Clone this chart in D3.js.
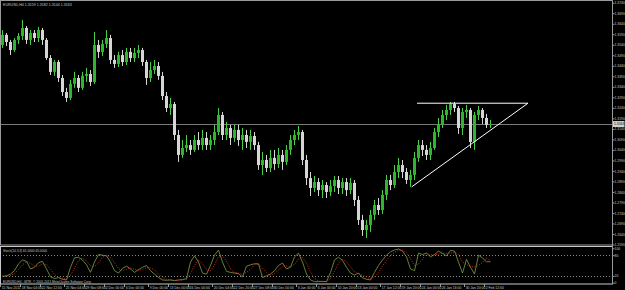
<!DOCTYPE html>
<html>
<head>
<meta charset="utf-8">
<script src="https://cdn.jsdelivr.net/npm/d3@7"></script>
<style>
html, body { margin: 0; padding: 0; background: #000; }
svg { display: block; }
text { font-family: "Liberation Sans", Arial, sans-serif; }
</style>
</head>
<body>
<svg></svg>
<script>
const symbol = "EURUSD,H4";

// H4 candles
const open = [
  1.3539, 1.3587, 1.3553, 1.3515, 1.3563, 1.3582, 1.3620, 1.3563, 1.3596, 1.3572,
  1.3610, 1.3563, 1.3477, 1.3411, 1.3458, 1.3382, 1.3315, 1.3287, 1.3354, 1.3382,
  1.3335, 1.3392, 1.3401, 1.3363, 1.3539, 1.3506, 1.3544, 1.3572, 1.3468, 1.3449,
  1.3491, 1.3458, 1.3506, 1.3477, 1.3501, 1.3515, 1.3458, 1.3382, 1.3420, 1.3439,
  1.3392, 1.3296, 1.3239, 1.3258, 1.3111, 1.3016, 1.3049, 1.3063, 1.3040, 1.3087,
  1.3063, 1.3097, 1.3063, 1.3087, 1.3125, 1.3206, 1.3111, 1.3144, 1.3097, 1.3135,
  1.3087, 1.3111, 1.3078, 1.3106, 1.3063, 1.2968, 1.2992, 1.2954, 1.3002, 1.2973,
  1.3016, 1.2983, 1.3040, 1.3087, 1.3111, 1.3125, 1.2992, 1.2906, 1.2859, 1.2887,
  1.2849, 1.2873, 1.2840, 1.2868, 1.2897, 1.2859, 1.2887, 1.2849, 1.2883, 1.2802,
  1.2707, 1.2659, 1.2683, 1.2731, 1.2778, 1.2754, 1.2826, 1.2897, 1.2873, 1.2935,
  1.2968, 1.2935, 1.2897, 1.2921, 1.3002, 1.3063, 1.3040, 1.3016, 1.3049, 1.3125,
  1.3159, 1.3206, 1.3230, 1.3258, 1.3239, 1.3144, 1.3220, 1.3230, 1.3078, 1.3206,
  1.3230, 1.3192, 1.3159
];
const high = [
  1.3610, 1.3596, 1.3563, 1.3572, 1.3596, 1.3658, 1.3629, 1.3610, 1.3610, 1.3625,
  1.3620, 1.3572, 1.3491, 1.3468, 1.3468, 1.3396, 1.3335, 1.3373, 1.3411, 1.3396,
  1.3411, 1.3430, 1.3420, 1.3601, 1.3563, 1.3563, 1.3610, 1.3587, 1.3491, 1.3506,
  1.3515, 1.3525, 1.3525, 1.3525, 1.3539, 1.3525, 1.3468, 1.3458, 1.3468, 1.3458,
  1.3411, 1.3315, 1.3287, 1.3268, 1.3135, 1.3087, 1.3111, 1.3087, 1.3111, 1.3125,
  1.3135, 1.3125, 1.3111, 1.3159, 1.3239, 1.3220, 1.3173, 1.3159, 1.3159, 1.3159,
  1.3144, 1.3135, 1.3135, 1.3125, 1.3078, 1.3030, 1.3016, 1.3040, 1.3040, 1.3049,
  1.3040, 1.3063, 1.3111, 1.3135, 1.3154, 1.3135, 1.3016, 1.2935, 1.2916, 1.2906,
  1.2897, 1.2887, 1.2897, 1.2916, 1.2916, 1.2906, 1.2906, 1.2906, 1.2897, 1.2821,
  1.2731, 1.2707, 1.2754, 1.2802, 1.2811, 1.2849, 1.2921, 1.2921, 1.2968, 1.3002,
  1.2992, 1.2954, 1.2945, 1.3030, 1.3087, 1.3087, 1.3063, 1.3078, 1.3144, 1.3192,
  1.3230, 1.3254, 1.3268, 1.3268, 1.3249, 1.3239, 1.3254, 1.3239, 1.3220, 1.3249,
  1.3239, 1.3211, 1.3182
];
const low = [
  1.3525, 1.3534, 1.3491, 1.3506, 1.3544, 1.3563, 1.3544, 1.3539, 1.3553, 1.3553,
  1.3539, 1.3468, 1.3396, 1.3392, 1.3363, 1.3296, 1.3268, 1.3277, 1.3335, 1.3315,
  1.3325, 1.3363, 1.3344, 1.3354, 1.3477, 1.3487, 1.3525, 1.3449, 1.3430, 1.3434,
  1.3439, 1.3444, 1.3458, 1.3458, 1.3477, 1.3439, 1.3349, 1.3363, 1.3401, 1.3373,
  1.3277, 1.3220, 1.3206, 1.3087, 1.2983, 1.3002, 1.3030, 1.3016, 1.3030, 1.3040,
  1.3040, 1.3040, 1.3040, 1.3063, 1.3111, 1.3087, 1.3087, 1.3063, 1.3078, 1.3059,
  1.3040, 1.3049, 1.3040, 1.3040, 1.2945, 1.2921, 1.2935, 1.2935, 1.2945, 1.2954,
  1.2945, 1.2968, 1.3016, 1.3063, 1.3087, 1.2968, 1.2873, 1.2821, 1.2840, 1.2821,
  1.2811, 1.2811, 1.2821, 1.2840, 1.2830, 1.2830, 1.2821, 1.2830, 1.2773, 1.2683,
  1.2631, 1.2621, 1.2650, 1.2707, 1.2731, 1.2735, 1.2802, 1.2849, 1.2859, 1.2906,
  1.2906, 1.2878, 1.2864, 1.2897, 1.2983, 1.3011, 1.2992, 1.2992, 1.3040, 1.3101,
  1.3144, 1.3182, 1.3206, 1.3220, 1.3116, 1.3111, 1.3192, 1.3049, 1.3040, 1.3182,
  1.3163, 1.3144, 1.3144
];
const close = [
  1.3587, 1.3553, 1.3515, 1.3563, 1.3582, 1.3620, 1.3563, 1.3596, 1.3572, 1.3610,
  1.3563, 1.3477, 1.3411, 1.3458, 1.3382, 1.3315, 1.3287, 1.3354, 1.3382, 1.3335,
  1.3392, 1.3401, 1.3363, 1.3539, 1.3506, 1.3544, 1.3572, 1.3468, 1.3449, 1.3491,
  1.3458, 1.3506, 1.3477, 1.3501, 1.3515, 1.3458, 1.3382, 1.3420, 1.3439, 1.3392,
  1.3296, 1.3239, 1.3258, 1.3111, 1.3016, 1.3049, 1.3063, 1.3040, 1.3087, 1.3063,
  1.3097, 1.3063, 1.3087, 1.3125, 1.3206, 1.3111, 1.3144, 1.3097, 1.3135, 1.3087,
  1.3111, 1.3078, 1.3106, 1.3063, 1.2968, 1.2992, 1.2954, 1.3002, 1.2973, 1.3016,
  1.2983, 1.3040, 1.3087, 1.3111, 1.3125, 1.2992, 1.2906, 1.2859, 1.2887, 1.2849,
  1.2873, 1.2840, 1.2868, 1.2897, 1.2859, 1.2887, 1.2849, 1.2883, 1.2802, 1.2707,
  1.2659, 1.2683, 1.2731, 1.2778, 1.2754, 1.2826, 1.2897, 1.2873, 1.2935, 1.2968,
  1.2935, 1.2897, 1.2921, 1.3002, 1.3063, 1.3040, 1.3016, 1.3049, 1.3125, 1.3159,
  1.3206, 1.3230, 1.3258, 1.3239, 1.3144, 1.3220, 1.3230, 1.3078, 1.3206, 1.3230,
  1.3192, 1.3159, 1.3163
];

// stochastic main (%K) and signal (%D)
const stochMain = [
  18, 20, 25, 35, 55, 66, 62, 40, 45, 58,
  62, 40, 17, 12, 15, 10, 8, 45, 72, 74,
  66, 52, 30, 60, 82, 80, 78, 60, 35, 28,
  42, 48, 40, 30, 38, 45, 50, 35, 25, 15,
  8, 7, 8, 6, 8, 9, 12, 60, 78, 60,
  28, 25, 50, 80, 95, 60, 33, 30, 28, 26,
  17, 48, 52, 55, 55, 15, 20, 25, 35, 50,
  57, 40, 45, 75, 86, 60, 25, 8, 3, 3,
  4, 3, 30, 66, 74, 65, 45, 28, 22, 28,
  14, 10, 8, 30, 50, 66, 80, 90, 95, 98,
  92, 75, 40, 35, 86, 82, 86, 75, 82, 92,
  85, 78, 94, 92, 60, 28, 68, 45, 25, 80,
  72, 61, 61
];
const stochSignal = [
  20, 19, 21, 27, 38, 52, 61, 56, 49, 48,
  55, 53, 40, 23, 15, 12, 11, 21, 42, 64,
  71, 64, 49, 47, 57, 74, 80, 73, 58, 41,
  35, 39, 43, 39, 36, 38, 44, 43, 37, 25,
  16, 10, 8, 7, 7, 8, 10, 27, 50, 66,
  55, 38, 34, 52, 75, 78, 63, 41, 30, 28,
  24, 30, 39, 52, 54, 42, 30, 20, 27, 37,
  47, 49, 47, 53, 69, 74, 57, 31, 12, 5,
  3, 3, 12, 33, 57, 68, 61, 46, 32, 26,
  21, 17, 11, 16, 29, 49, 65, 79, 88, 94,
  95, 88, 69, 50, 54, 68, 85, 81, 81, 83,
  86, 85, 86, 88, 82, 60, 52, 47, 46, 50,
  59, 71, 65
];
const stochLevels = [80, 20];
const stochTicks = [100, 80, 20, 0];

// price scale labels
const priceTicks = d3.range(24).map(k => +(1.2590 + k * 0.005).toFixed(4));

// time axis: bar index of each label and its text
const timeTickBars = [0, 5, 10, 16, 21, 26, 31, 37, 42, 47, 53, 58, 63, 68, 74, 79, 84, 89, 95, 100, 105, 110, 116, 121];
const timeTickLabels = [
  "15 Nov 2011", "18 Nov 04:00", "22 Nov 12:00", "25 Nov 04:00", "29 Nov 08:00", "2 Dec 00:00",
  "6 Dec 00:00", "9 Dec 00:00", "13 Dec 00:00", "16 Dec 00:00", "20 Dec 04:00", "22 Dec 20:00",
  "27 Dec 08:00", "30 Dec 00:00", "3 Jan 00:00", "6 Jan 00:00", "10 Jan 20:00", "13 Jan 00:00",
  "17 Jan 12:00", "19 Jan 20:00", "24 Jan 00:00", "26 Jan 16:00", "30 Jan 20:00", "2 Feb 12:00"
];

// hand drawn triangle (bar index, price)
const topLine = [[103.75, 1.3262], [131.5, 1.3262]];
const supportLine = [[102.4, 1.2864], [131.5, 1.3262]];

const width = 625;
const height = 290;
const plotRight = 612;
const mainBottom = 245;
const subTop = 246.5;
const subBottom = 284;

const frameColor = "#9a9a9a";
const textColor = "#c8c8c8";
const bullBody = "#2fb52f";
const bullWick = "#45d045";
const bearColor = "#d6d6d6";

const svg = d3.select("svg").attr("width", width).attr("height", height);
svg.append("rect").attr("width", width).attr("height", height).attr("fill", "#000");

const bars = d3.range(close.length).map(i => ({ i, o: open[i], h: high[i], l: low[i], c: close[i] }));

const xScale = d3.scaleLinear().domain([-0.5, 152.5]).range([0, plotRight]);
const yScale = d3.scaleLinear().domain([1.2640, 1.3740]).range([234, 2.7]);
const sScale = d3.scaleLinear().domain([0, 100]).range([282.7, 248.3]);

svg.append("clipPath").attr("id", "mainClip")
  .append("rect").attr("x", 0).attr("y", 0).attr("width", plotRight).attr("height", mainBottom);

// bid line
const last = bars[bars.length - 1];
svg.append("line")
  .attr("x1", 0).attr("x2", plotRight)
  .attr("y1", Math.round(yScale(last.c)) + 0.5).attr("y2", Math.round(yScale(last.c)) + 0.5)
  .attr("stroke", "#7a7a7a");

// candles
const candles = svg.append("g").attr("clip-path", "url(#mainClip)")
  .selectAll("g").data(bars).enter().append("g");

candles.append("line")
  .attr("x1", d => Math.round(xScale(d.i)) + 0.5)
  .attr("x2", d => Math.round(xScale(d.i)) + 0.5)
  .attr("y1", d => yScale(d.h))
  .attr("y2", d => yScale(d.l))
  .attr("stroke", d => d.c >= d.o ? bullWick : bearColor);

candles.append("rect")
  .attr("x", d => Math.round(xScale(d.i)) - 1)
  .attr("width", 3)
  .attr("y", d => yScale(Math.max(d.o, d.c)))
  .attr("height", d => Math.max(1, Math.abs(yScale(d.o) - yScale(d.c))))
  .attr("fill", d => d.c >= d.o ? bullBody : bearColor);

// triangle
const trend = d3.line().x(d => xScale(d[0])).y(d => yScale(d[1]));
[topLine, supportLine].forEach(pts => {
  svg.append("path").attr("d", trend(pts))
    .attr("fill", "none").attr("stroke", "#ffffff").attr("stroke-width", 1);
});

// stochastic pane
stochLevels.forEach(v => {
  svg.append("line")
    .attr("x1", 0).attr("x2", plotRight)
    .attr("y1", Math.round(sScale(v)) + 0.5).attr("y2", Math.round(sScale(v)) + 0.5)
    .attr("stroke", "#8a8a8a").attr("stroke-dasharray", "1,2");
});

const stochLine = d3.line().x((d, i) => xScale(i) + 0.5).y(d => sScale(d));
svg.append("path").attr("d", stochLine(stochMain))
  .attr("fill", "none").attr("stroke", "#7f9f45").attr("stroke-width", 0.8);
svg.append("path").attr("d", stochLine(stochSignal))
  .attr("fill", "none").attr("stroke", "#ff3a2a").attr("stroke-width", 0.8)
  .attr("stroke-dasharray", "1,1.5");

// frames
svg.append("rect").attr("x", 0.5).attr("y", 0.5)
  .attr("width", plotRight).attr("height", mainBottom - 0.5)
  .attr("fill", "none").attr("stroke", frameColor);
svg.append("rect").attr("x", 0.5).attr("y", subTop)
  .attr("width", plotRight).attr("height", subBottom - subTop)
  .attr("fill", "none").attr("stroke", "#c8c8c8");

// price axis
const yAxis = d3.axisRight(yScale).tickValues(priceTicks).tickSize(2).tickFormat(d3.format(".4f"));
const gy = svg.append("g").attr("transform", "translate(" + (plotRight + 0.5) + ",0)").call(yAxis);
gy.select(".domain").remove();
gy.selectAll("line").attr("stroke", frameColor);
gy.selectAll("text").attr("x", 2).attr("font-size", 3.4).attr("fill", textColor)
  .attr("font-family", "Liberation Sans, Arial, sans-serif");

// bid price box
svg.append("rect").attr("x", plotRight + 1).attr("y", yScale(last.c) - 3)
  .attr("width", width - plotRight - 1.5).attr("height", 6).attr("fill", "#d0d0d0");
svg.append("text").attr("x", plotRight + 2).attr("y", yScale(last.c) + 1.3)
  .attr("font-size", 3.4).attr("fill", "#000")
  .text(d3.format(".4f")(last.c));

// stochastic axis
const sAxis = d3.axisRight(sScale).tickValues(stochTicks).tickSize(2).tickFormat(d3.format("d"));
const gs = svg.append("g").attr("transform", "translate(" + (plotRight + 0.5) + ",0)").call(sAxis);
gs.select(".domain").remove();
gs.selectAll("line").attr("stroke", frameColor);
gs.selectAll("text").attr("x", 2).attr("font-size", 3.4).attr("fill", textColor)
  .attr("font-family", "Liberation Sans, Arial, sans-serif");

svg.append("line").attr("x1", plotRight + 0.5).attr("x2", plotRight + 0.5)
  .attr("y1", 0).attr("y2", subBottom).attr("stroke", frameColor);

// time axis
const tg = svg.append("g");
timeTickBars.forEach((b, k) => {
  const x = Math.round(xScale(b)) - 1.5;
  tg.append("line").attr("x1", x).attr("x2", x).attr("y1", subBottom).attr("y2", subBottom + 3)
    .attr("stroke", frameColor);
  tg.append("text").attr("x", x + 1.2).attr("y", 289)
    .attr("font-size", 3.4).attr("fill", textColor)
    .text(timeTickLabels[k]);
});

// captions
const f4 = d3.format(".4f");
const title = symbol + "  " + [last.o, last.h, last.l, last.c].map(f4).join(" ");
svg.append("text").attr("x", 3).attr("y", 5.5).attr("font-size", 3.6).attr("fill", textColor)
  .text(title);

const stochTitle = "Stoch(14,3,3) " + f4(stochMain[stochMain.length - 1]) + " " + f4(stochSignal[stochSignal.length - 1]);
svg.append("text").attr("x", 3).attr("y", 251.5).attr("font-size", 3.2).attr("fill", textColor)
  .text(stochTitle);

svg.append("text").attr("x", 3).attr("y", 282.8).attr("font-size", 3.2).attr("fill", textColor)
  .text(symbol + " - MTR, © 2001-2011 MetaQuotes Software Corp.");
</script>
</body>
</html>
